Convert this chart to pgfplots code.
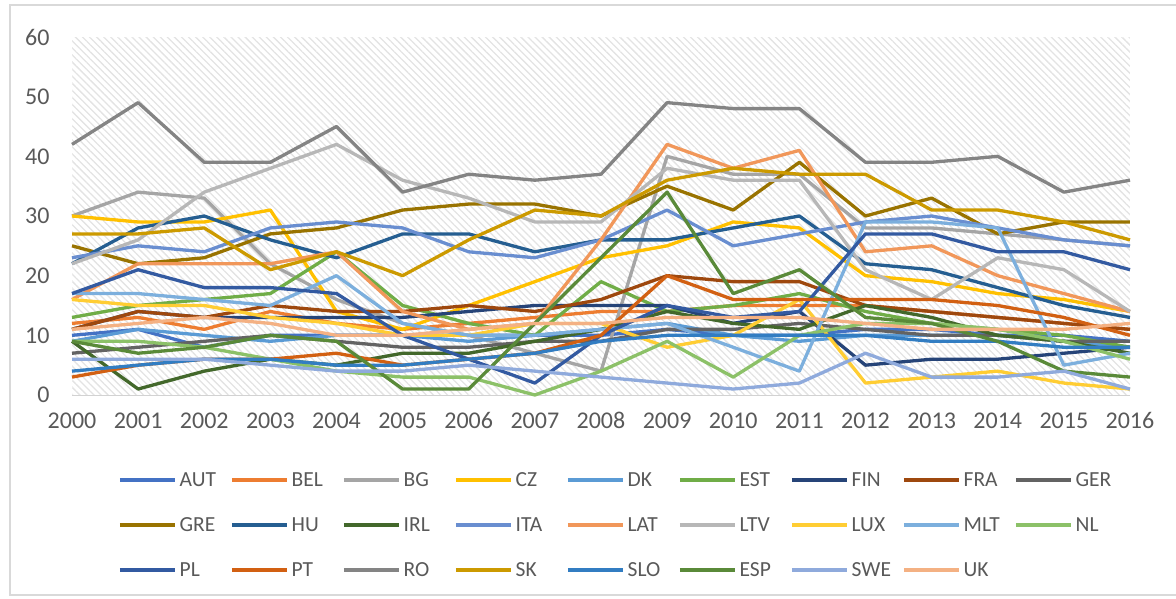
\documentclass[border=0pt]{standalone}
\usepackage{fontspec}
\setmainfont{Carlito}
\usepackage{pgfplots}
\pgfplotsset{compat=1.18}
\usepackage{pgfplotstable}
\usetikzlibrary{patterns.meta}
\definecolor{txt}{HTML}{595959}
\definecolor{cAUT}{HTML}{4472C4}
\definecolor{cBEL}{HTML}{ED7D31}
\definecolor{cBG}{HTML}{A5A5A5}
\definecolor{cCZ}{HTML}{FFC000}
\definecolor{cDK}{HTML}{5B9BD5}
\definecolor{cEST}{HTML}{70AD47}
\definecolor{cFIN}{HTML}{264478}
\definecolor{cFRA}{HTML}{9E480E}
\definecolor{cGER}{HTML}{636363}
\definecolor{cGRE}{HTML}{997300}
\definecolor{cHU}{HTML}{255E91}
\definecolor{cIRL}{HTML}{43682B}
\definecolor{cITA}{HTML}{698ED0}
\definecolor{cLAT}{HTML}{F1975A}
\definecolor{cLTV}{HTML}{B7B7B7}
\definecolor{cLUX}{HTML}{FFCD33}
\definecolor{cMLT}{HTML}{7CAFDD}
\definecolor{cNL}{HTML}{8CC168}
\definecolor{cPL}{HTML}{335AA1}
\definecolor{cPT}{HTML}{D26012}
\definecolor{cRO}{HTML}{848484}
\definecolor{cSK}{HTML}{CC9A00}
\definecolor{cSLO}{HTML}{327DC2}
\definecolor{cESP}{HTML}{5A8A39}
\definecolor{cSWE}{HTML}{8FAADC}
\definecolor{cUK}{HTML}{F4B183}

\pgfplotstableread{
year AUT BEL BG CZ DK EST FIN FRA GER GRE HU IRL ITA LAT LTV LUX MLT NL PL PT RO SK SLO ESP SWE UK
2000 10 12 30 30 9 13 11 11 7 25 22 9 23 16 22 16 17 9 17 3 42 27 4 9 6 11
2001 11 13 34 29 11 15 14 14 8 22 28 1 25 22 26 15 17 9 21 5 49 27 5 7 6 12
2002 8 11 33 29 10 16 13 13 9 23 30 4 24 22 34 15 16 8 18 6 39 28 6 8 6 13
2003 10 14 22 31 9 17 13 15 10 27 26 6 28 22 38 13 15 6 18 6 39 21 6 10 5 12
2004 10 12 16 14 10 24 13 14 9 28 23 5 29 24 42 12 20 4 17 7 45 24 5 9 4 10
2005 10 11 12 11 10 15 13 14 8 31 27 7 28 14 36 10 12 3 10 5 34 20 5 1 4 10
2006 10 12 10 15 9 12 14 15 8 32 27 7 24 11 33 10 10 3 6 6 37 26 6 1 5 11
2007 10 13 7 19 10 10 15 14 9 32 24 9 23 12 29 12 10 0 2 7 36 31 7 12 4 12
2008 10 14 4 23 11 19 15 16 9 30 26 11 26 26 29 12 11 4 10 10 37 30 9 23 3 12
2009 11 14 40 25 12 14 15 20 11 35 26 14 31 42 38 8 12 9 15 20 49 36 10 34 2 13
2010 10 15 37 29 10 15 12 19 11 31 28 12 25 38 36 10 8 3 13 16 48 38 10 17 1 13
2011 10 15 37 28 9 17 14 19 12 39 30 11 27 41 36 16 4 10 14 16 48 37 10 21 2 13
2012 11 15 28 20 10 14 5 15 11 30 22 15 29 24 21 2 29 12 27 16 39 37 10 13 7 12
2013 11 14 28 19 10 12 6 14 10 33 21 13 30 25 16 3 29 12 27 16 39 31 9 12 3 11
2014 10 13 27 17 10 11 6 13 10 27 18 10 28 20 23 4 28 11 24 15 40 31 9 9 3 11
2015 10 12 26 16 9 10 7 12 9 29 15 9 26 17 21 2 5 9 24 13 34 29 8 4 4 11
2016 9 11 25 14 8 8 8 11 9 29 13 7 25 14 14 1 7 6 21 10 36 26 8 3 1 12
}\data

\begin{document}
\begin{tikzpicture}[x=1pt,y=1pt]
\path[use as bounding box] (0,0) rectangle (1176,598);
\draw[gray!30, line width=1.2pt] (1176,593) -- (10,593) -- (10,3) -- (1176,3);
\begin{axis}[
  at={(72pt,203pt)}, anchor=south west,
  scale only axis, width=1058pt, height=358pt,
  xmin=2000, xmax=2016, ymin=0, ymax=60,
  xtick={2000,2001,...,2016}, ytick={0,10,...,60},
  /pgf/number format/1000 sep={},
  /pgf/number format/assume math mode=true,
  axis line style={draw=none},
  axis x line*=bottom, axis y line*=left,
  major tick length=0pt,
  ticklabel style={font=\fontsize{24}{28}\selectfont, text=txt},
  yticklabel style={xshift=-19pt},
  xticklabel style={yshift=-14pt},
  axis background/.style={pattern={Lines[angle=-45, distance=5pt, line width=1.3pt]}, pattern color=gray!22},
  clip=false,
  legend columns=9,
  legend style={draw=none, fill=none, at={(0.0406,-0.210)}, anchor=north west,
    font=\fontsize{21.5}{25}\selectfont, text=txt,
    nodes={inner sep=0pt},
    /tikz/every odd column/.style={column sep=3pt},
    /tikz/every even column/.style={column sep=0pt},
    row sep=29.5pt},
  legend cell align=left,
  legend image code/.code={\draw[#1, line width=3.5pt, line cap=butt] (0pt,0pt) -- (55pt,0pt);},
  every axis plot/.append style={line width=3.3pt, line join=round, mark=none},
]
\draw[gray!35, line width=1pt] (axis cs:2000,0) -- (axis cs:2016,0);
\pgfplotsinvokeforeach{AUT,BEL,BG,CZ,DK,EST,FIN,FRA,GER,GRE,HU,IRL,ITA,LAT,LTV,LUX,MLT,NL,PL,PT,RO,SK,SLO,ESP,SWE,UK}{
  \addplot[draw=c#1] table[x=year, y=#1] {\data};
  \addlegendentry{\makebox[50.5pt][l]{#1}}
}
\end{axis}
\end{tikzpicture}
\end{document}
